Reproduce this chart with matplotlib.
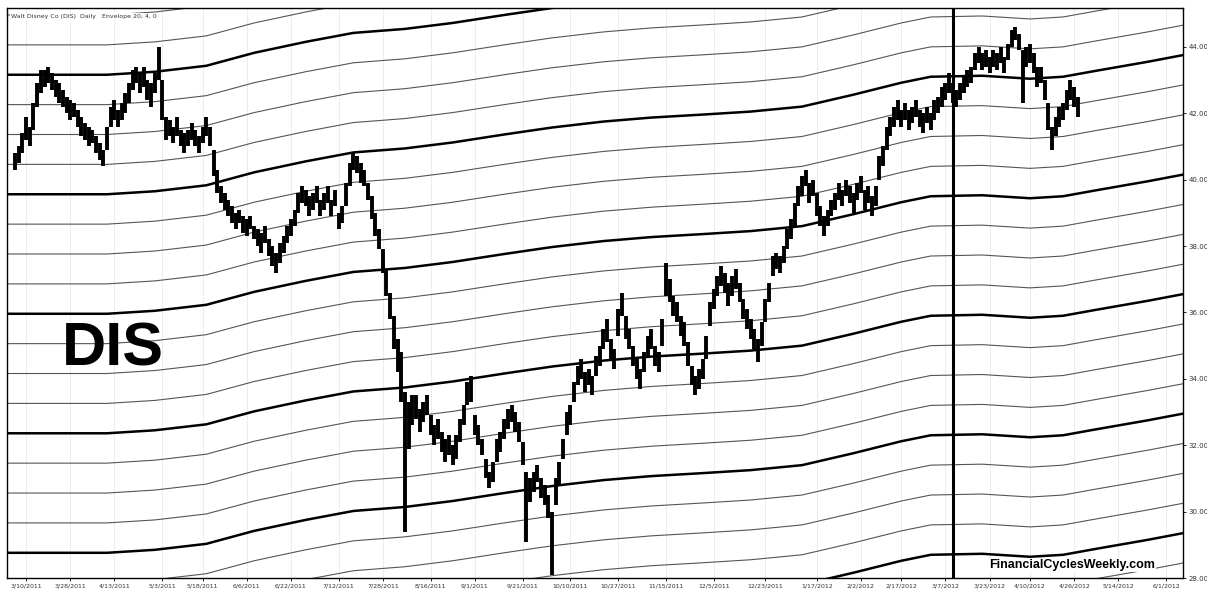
import matplotlib
matplotlib.use("Agg")
import matplotlib.pyplot as plt

# daily bars, trading day index from 3/7/2011
lows = [
    40.3, 40.5, 40.8, 41.2, 41.0, 41.5, 42.2, 42.6, 42.8, 42.9,
    42.7, 42.5, 42.3, 42.2, 42.0, 41.8, 41.9, 41.6, 41.3, 41.2,
    41.0, 41.1, 40.8, 40.6, 40.4, 40.9, 41.6, 41.8, 41.6, 41.8,
    42.0, 42.3, 42.7, 42.9, 42.6, 42.8, 42.4, 42.2, 42.6, 43.0,
    41.8, 41.2, 41.3, 41.1, 41.3, 41.0, 40.8, 41.0, 41.2, 41.0,
    40.8, 41.1, 41.3, 41.0, 40.1, 39.6, 39.3, 39.1, 38.9, 38.7,
    38.5, 38.7, 38.4, 38.3, 38.5, 38.2, 38.0, 37.8, 38.1, 37.7,
    37.4, 37.2, 37.5, 37.8, 38.1, 38.3, 38.6, 39.0, 39.3, 39.2,
    38.9, 39.1, 39.3, 38.9, 39.1, 39.3, 38.9, 39.2, 38.5, 38.7,
    39.2, 39.8, 40.3, 40.2, 39.9, 39.8, 39.4, 38.8, 38.3, 37.9,
    37.2, 36.5, 35.8, 34.9, 34.2, 33.3, 29.4, 31.9, 32.6, 32.8,
    32.4, 32.7, 32.9, 32.3, 32.0, 32.2, 31.8, 31.5, 31.7, 31.4,
    31.6, 32.1, 32.6, 33.2, 33.3, 32.3, 32.0, 31.7, 31.0, 30.7,
    30.9, 31.5, 31.8, 32.2, 32.5, 32.7, 32.4, 32.1, 31.4, 29.1,
    30.3, 30.6, 30.9, 30.4, 30.2, 29.8, 28.1, 30.2, 30.8, 31.6,
    32.3, 32.6, 33.3, 33.8, 34.0, 33.6, 33.8, 33.5, 34.1, 34.4,
    34.9, 35.1, 34.6, 34.3, 35.3, 35.9, 35.2, 34.9, 34.4, 34.0,
    33.7, 34.2, 34.7, 34.9, 34.4, 34.2, 35.0, 36.5, 36.3, 35.9,
    35.7, 35.3, 35.0, 34.4, 33.8, 33.5, 33.7, 34.0, 34.6, 35.6,
    36.1, 36.5, 36.8, 36.6, 36.2, 36.5, 36.7, 36.3, 35.8, 35.5,
    35.2, 34.9, 34.5, 35.0, 35.7, 36.3, 37.1, 37.3, 37.2, 37.5,
    37.9, 38.2, 38.6, 39.2, 39.5, 39.8, 39.3, 39.5, 38.9, 38.6,
    38.3, 38.6, 38.9, 39.1, 39.4, 39.2, 39.5, 39.3, 39.0, 39.4,
    39.6, 39.1, 39.3, 38.9, 39.2, 40.0, 40.4, 40.9, 41.3, 41.6,
    41.8, 41.6, 41.8, 41.5, 41.7, 41.9, 41.6, 41.4, 41.7, 41.5,
    41.8, 42.0, 42.2, 42.4, 42.6, 42.3, 42.2, 42.4, 42.6, 42.8,
    42.9, 43.3, 43.5, 43.3, 43.4, 43.2, 43.4, 43.3, 43.5, 43.2,
    43.6, 44.0, 44.2, 43.9, 42.3, 43.4, 43.5, 43.2, 42.8, 42.9,
    42.4, 41.5, 40.9, 41.3, 41.6, 41.8, 42.1, 42.4, 42.2, 41.9,
]
highs = [
    40.8, 41.0, 41.4, 41.9, 41.6, 42.3, 42.9, 43.3, 43.3, 43.4,
    43.2, 43.0, 42.9, 42.7, 42.5, 42.4, 42.3, 42.1, 41.9, 41.7,
    41.6, 41.5, 41.3, 41.1, 40.9, 41.6, 42.2, 42.4, 42.1, 42.3,
    42.6, 42.9, 43.3, 43.4, 43.2, 43.4, 43.0, 42.9, 43.2, 44.0,
    43.0, 41.9, 41.8, 41.6, 41.9, 41.5, 41.4, 41.5, 41.7, 41.5,
    41.3, 41.6, 41.9, 41.6, 40.9, 40.3, 39.8, 39.6, 39.4, 39.2,
    39.0, 39.1, 38.9, 38.8, 38.9, 38.6, 38.5, 38.4, 38.6, 38.2,
    38.0, 37.8, 38.1, 38.3, 38.6, 38.8, 39.1, 39.6, 39.8, 39.7,
    39.5, 39.6, 39.8, 39.4, 39.6, 39.8, 39.4, 39.7, 39.0, 39.2,
    39.9, 40.5, 40.8, 40.7, 40.5, 40.3, 39.9, 39.5, 39.0, 38.5,
    37.9, 37.3, 36.6, 35.9, 35.2, 34.8, 33.6, 33.3, 33.5, 33.5,
    33.1, 33.3, 33.5, 32.9, 32.6, 32.8, 32.4, 32.2, 32.3, 32.0,
    32.3, 32.8, 33.2, 33.9, 34.1, 32.9, 32.6, 32.2, 31.6, 31.2,
    31.5, 32.2, 32.4, 32.8, 33.1, 33.2, 33.0, 32.7, 32.1, 31.2,
    31.0, 31.2, 31.4, 31.0, 30.8, 30.5, 30.0, 31.0, 31.5, 32.2,
    33.0, 33.2, 33.9, 34.4, 34.6, 34.2, 34.3, 34.1, 34.7, 35.0,
    35.5, 35.8, 35.2, 34.9, 36.1, 36.6, 35.9, 35.5, 35.0, 34.6,
    34.3, 34.8, 35.3, 35.5, 35.0, 34.8, 35.8, 37.5, 37.0, 36.5,
    36.3, 35.9, 35.7, 35.1, 34.4, 34.1, 34.3, 34.6, 35.3, 36.3,
    36.7, 37.1, 37.4, 37.2, 36.9, 37.1, 37.3, 36.9, 36.4, 36.1,
    35.8, 35.5, 35.2, 35.7, 36.4, 36.9, 37.7, 37.8, 37.7, 38.0,
    38.5, 38.8, 39.3, 39.8, 40.1, 40.3, 39.9, 40.0, 39.6, 39.2,
    38.9, 39.1, 39.4, 39.6, 39.9, 39.7, 40.0, 39.8, 39.6, 39.9,
    40.1, 39.7, 39.8, 39.5, 39.8, 40.7, 41.0, 41.6, 41.9, 42.2,
    42.4, 42.1, 42.3, 42.1, 42.2, 42.4, 42.1, 42.0, 42.2, 42.0,
    42.4, 42.5, 42.8, 42.9, 43.2, 42.9, 42.7, 42.9, 43.1, 43.3,
    43.4, 43.8, 44.0, 43.8, 43.9, 43.7, 43.9, 43.8, 44.0, 43.7,
    44.1, 44.5, 44.6, 44.4, 43.9, 44.0, 44.1, 43.8, 43.4, 43.4,
    43.0, 42.3, 41.6, 41.9, 42.2, 42.3, 42.7, 43.0, 42.8, 42.5,
]
days = list(range(len(lows)))

# x tick labels (trading day index -> date)
tick_days = [3, 15, 27, 40, 51, 63, 75, 88, 100, 113, 125, 138, 151,
             164, 177, 190, 204, 218, 230, 241, 253, 265, 276, 288, 300, 313]
tick_labels = ["3/10/2011", "3/28/2011", "4/13/2011", "5/3/2011", "5/18/2011",
               "6/6/2011", "6/22/2011", "7/12/2011", "7/28/2011", "8/16/2011",
               "9/1/2011", "9/21/2011", "10/10/2011", "10/27/2011", "11/15/2011",
               "12/5/2011", "12/23/2011", "1/17/2012", "2/2/2012", "2/17/2012",
               "3/7/2012", "3/23/2012", "4/10/2012", "4/26/2012", "5/14/2012",
               "6/1/2012"]
price_ticks = [28, 30, 32, 34, 36, 38, 40, 42, 44]

# cycle envelope lines: shape of the wave and where each line starts
wave_days = [-2, 11, 25, 38, 52, 65, 79, 92, 106, 119, 133, 146, 160, 173,
             187, 200, 214, 228, 241, 249, 263, 276, 285, 294, 308, 318]
wave_shift = [0, 0, 0, 0.09, 0.27, 0.66, 0.99, 1.26, 1.38, 1.56, 1.80, 2.01,
              2.19, 2.31, 2.40, 2.49, 2.64, 3.00, 3.36, 3.54, 3.57, 3.48, 3.54,
              3.72, 3.99, 4.20]
band_start = [44.96 - 0.9 * m for m in range(24)]
marker_day = 255

fig = plt.figure(figsize=(12.07, 5.98), dpi=100)
ax = fig.add_axes([0.0058, 0.0334, 0.9743, 0.9532])

for m, start in enumerate(band_start):
    thick = (m % 4) == 2
    ax.plot(wave_days, [start + s for s in wave_shift],
            color="black" if thick else "#555555",
            lw=1.8 if thick else 0.8, zorder=2)

for d in tick_days:
    ax.axvline(d, color="#e6e6e6", lw=0.5, zorder=1)

ax.vlines(days, lows, highs, color="black", lw=2.8, zorder=4)
ax.axvline(marker_day, color="black", lw=2.2, zorder=5)

ax.text(0.047, 0.40, "DIS", transform=ax.transAxes, fontsize=44,
        fontweight="bold", family="Liberation Sans", va="center", zorder=6)
ax.text(0.976, 0.023, "FinancialCyclesWeekly.com", transform=ax.transAxes,
        fontsize=9, fontweight="bold", family="Liberation Sans", ha="right",
        va="center", zorder=6,
        bbox=dict(facecolor="white", edgecolor="none", pad=1))
ax.text(0.003, 0.99, "Walt Disney Co (DIS)  Daily   Envelope 20, 4, 0",
        transform=ax.transAxes, fontsize=4.5, color="#333333", va="top",
        zorder=6, bbox=dict(facecolor="white", edgecolor="none", pad=0.5))

ax.set_xlim(-2.2, 317.6)
ax.set_ylim(28.05, 45.17)
ax.yaxis.tick_right()
ax.set_yticks(price_ticks)
ax.set_yticklabels(["%.2f" % p for p in price_ticks], fontsize=5, color="#333333")
ax.set_xticks(tick_days)
ax.set_xticklabels(tick_labels, fontsize=4.5, color="#333333")
ax.tick_params(length=2, width=0.6, pad=2)
for sp in ax.spines.values():
    sp.set_linewidth(1.0)

fig.savefig("out.png", dpi=100)
